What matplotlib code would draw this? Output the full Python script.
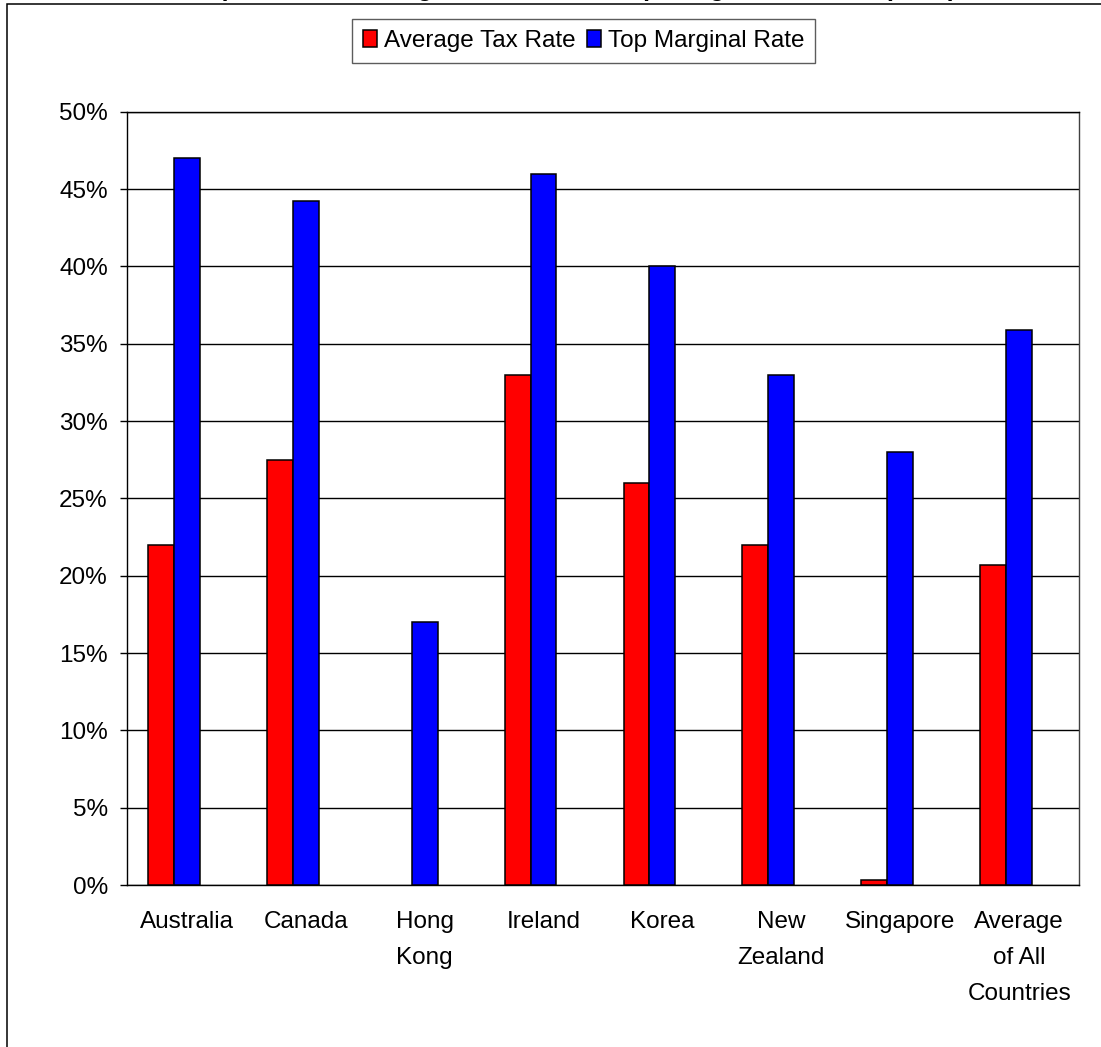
import matplotlib
matplotlib.use('Agg')
import matplotlib.pyplot as plt
from matplotlib.patches import Rectangle
from matplotlib.ticker import FuncFormatter

plt.rcParams['font.family'] = ['Liberation Sans', 'DejaVu Sans']

# Data
countries = ['Australia', 'Canada', 'Hong\nKong', 'Ireland', 'Korea',
             'New\nZealand', 'Singapore', 'Average\nof All\nCountries']
average_rate = [22.0, 27.5, 0.0, 33.0, 26.0, 22.0, 0.3, 20.7]
top_marginal_rate = [47.0, 44.2, 17.0, 46.0, 40.0, 33.0, 28.0, 35.9]
series_names = ['Average Tax Rate', 'Top Marginal Rate']
title = 'Comparison of Average Tax Rate and Top Marginal Tax Rate (2005)'


def plot_tax_rates():
    fig = plt.figure(figsize=(11.01, 10.47), dpi=100)
    fig.patch.set_facecolor('white')

    # Outer chart frame
    fig.patches.append(Rectangle((7 / 1101, -0.1), 1.2, 1.1 - 3.5 / 1047,
                                 transform=fig.transFigure, fill=False,
                                 edgecolor='black', linewidth=1.1))

    # Title sits above the frame top, only descenders reach the page
    fig.text(0.51, 1.0035, title, ha='center', va='baseline',
             fontsize=18, fontweight='bold')

    ax = fig.add_axes([127.3 / 1101, 1 - 885 / 1047,
                       (1078.6 - 127.3) / 1101, (885 - 111.7) / 1047])

    w = 0.218
    x = list(range(len(countries)))
    avg = [v / 100 for v in average_rate]
    top = [v / 100 for v in top_marginal_rate]
    # empty bars get no outline
    avg_edges = ['black' if v > 0 else 'none' for v in avg]
    ax.bar([i - w for i in x], avg, width=w, align='center', color='#FF0000',
           edgecolor=avg_edges, linewidth=1.1, label=series_names[0], zorder=3)
    ax.bar(x, top, width=w, align='center', color='#0000FF',
           edgecolor='black', linewidth=1.1, label=series_names[1], zorder=3)

    ax.set_xlim(-0.5, len(countries) - 0.5)
    ax.set_ylim(0, 0.5)
    ax.set_yticks([i * 0.05 for i in range(11)])
    ax.yaxis.set_major_formatter(FuncFormatter(lambda v, _: f'{v * 100:.0f}%'))
    ax.yaxis.grid(True, color='black', linewidth=1.0, zorder=0)
    ax.set_axisbelow(True)

    ax.set_xticks(x)
    ax.set_xticklabels(countries)
    plt.setp(ax.get_xticklabels(), linespacing=1.82)
    ax.tick_params(axis='x', length=0, pad=19, labelsize=17.5)
    ax.tick_params(axis='y', direction='out', length=5, width=1,
                   pad=9, labelsize=17.5)

    for spine in ax.spines.values():
        spine.set_color('black')
        spine.set_linewidth(1.0)
    ax.spines['right'].set_color('#404040')

    leg = fig.legend(loc='upper center', bbox_to_anchor=(0.530, 0.9818),
                     ncol=2, fontsize=17.5, frameon=True, fancybox=False,
                     handlelength=0.58, handleheight=0.7, handletextpad=0.3,
                     columnspacing=0.45, borderpad=0.45, borderaxespad=0)
    leg.get_frame().set_edgecolor('#333333')
    leg.get_frame().set_linewidth(1.0)

    fig.savefig('out.png', dpi=100)


if __name__ == '__main__':
    plot_tax_rates()
